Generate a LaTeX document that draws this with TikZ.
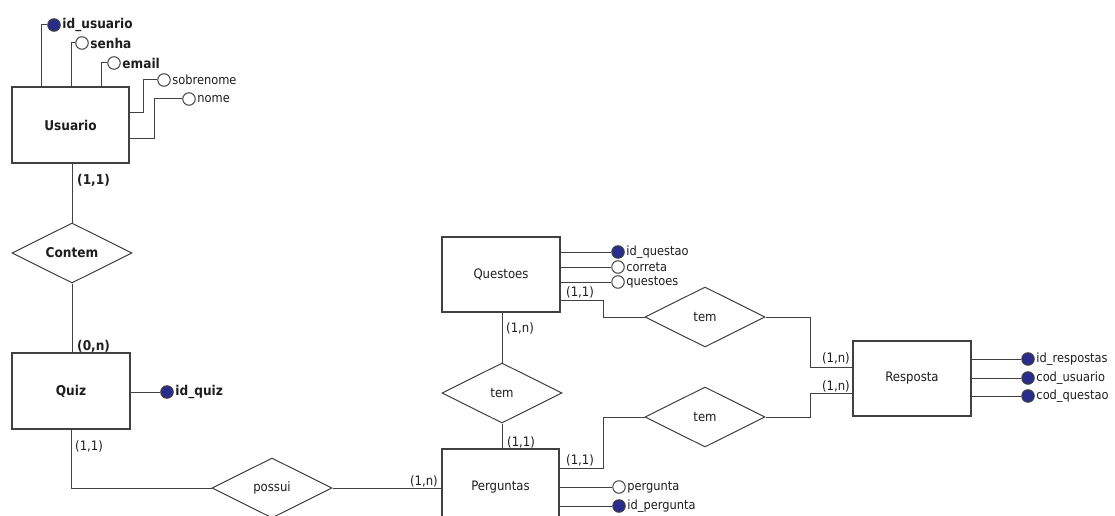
\documentclass[tikz,border=0pt]{standalone}
\usepackage{fontspec}
\setmainfont{DejaVu Sans Condensed}
\usetikzlibrary{shapes.geometric,shadows}
\definecolor{lnc}{RGB}{64,64,64}
\definecolor{keyblue}{RGB}{42,44,140}
\definecolor{txc}{RGB}{30,30,30}
\begin{document}
\begin{tikzpicture}[x=1pt,y=-1pt,
  every node/.style={text=txc},
  conn/.style={draw=lnc,line width=1pt},
  entity/.style={draw=lnc,line width=1.1pt,fill=white,rectangle,inner sep=0pt,
    font=\fontsize{13}{15}\selectfont,
    drop shadow={shadow xshift=1.4pt,shadow yshift=-1.4pt,fill=gray!70,opacity=1}},
  entb/.style={entity,font=\fontsize{13.5}{15}\selectfont\bfseries},
  rel/.style={draw=lnc,line width=1pt,fill=white,diamond,aspect=2,inner sep=0pt,
    minimum width=120pt,minimum height=60pt,font=\fontsize{13}{15}\selectfont},
  relb/.style={rel,font=\fontsize{13.5}{15}\selectfont\bfseries},
  attr/.style={draw=lnc,line width=1pt,fill=white,circle,inner sep=0pt,minimum size=12.5pt},
  key/.style={attr,fill=keyblue},
  alab/.style={anchor=west,inner sep=1.5pt,font=\fontsize{12.7}{14}\selectfont},
  alabb/.style={anchor=west,inner sep=1.5pt,font=\fontsize{13.5}{15}\selectfont\bfseries},
  card/.style={inner sep=0pt,font=\fontsize{13}{15}\selectfont},
  cardb/.style={inner sep=0pt,font=\fontsize{13.5}{15}\selectfont\bfseries}]
\useasboundingbox (0,0) rectangle (1115,516);
\clip (0,0) rectangle (1115,516);

% entities
\node[entb,minimum width=117pt,minimum height=76pt] (usuario) at (70.5,125) {Usuario};
\node[entb,minimum width=118pt,minimum height=76pt] (quiz) at (71,391) {Quiz};
\node[entity,minimum width=118pt,minimum height=75pt] (questoes) at (501,274.5) {Questoes};
\node[entity,minimum width=117pt,minimum height=76pt] (perguntas) at (500.5,487) {Perguntas};
\node[entity,minimum width=118pt,minimum height=75pt] (resposta) at (912,378.5) {Resposta};

% relationships
\node[relb] (contem) at (72,253) {Contem};
\node[rel] (possui) at (272,488) {possui};
\node[rel] (temm) at (502,393) {tem};
\node[rel] (tema) at (705,317) {tem};
\node[rel] (temb) at (705,417) {tem};

% Usuario attributes
\node[key] (idu) at (54,25) {};
\node[alabb] (idul) at (idu.east) {id\_usuario};
\node[attr] (senha) at (82,43) {};
\node[alabb] (senhal) at (senha.east) {senha};
\node[attr] (email) at (114,63) {};
\node[alabb] (emaill) at (email.east) {email};
\node[attr] (sobre) at (164,80) {};
\node[alab] (sobrel) at (sobre.east) {sobrenome};
\node[attr] (nome) at (189,99) {};
\node[alab] (nomel) at (nome.east) {nome};
\draw[conn] ([xshift=-29.5pt]usuario.north) |- (idu.west);
\draw[conn] ([xshift=0.5pt]usuario.north) |- (senha.west);
\draw[conn] ([xshift=30.5pt]usuario.north) |- (email.west);
\draw[conn] ([yshift=12pt]usuario.east) -- ++(14,0) |- (sobre.west);
\draw[conn] ([yshift=-13pt]usuario.east) -- ++(25,0) |- (nome.west);

% Quiz attribute
\node[key] (idq) at (167,392) {};
\node[alabb] (idql) at (idq.east) {id\_quiz};
\draw[conn] (quiz.east |- idq.west) -- (idq.west);

% Questoes attributes
\node[key] (idqs) at (618,252) {};
\node[alab] (idqsl) at (idqs.east) {id\_questao};
\node[attr] (corr) at (618,267) {};
\node[alab] (corrl) at (corr.east) {correta};
\node[attr] (qst) at (618,282) {};
\node[alab] (qstl) at (qst.east) {questoes};
\draw[conn] (questoes.east |- idqs.west) -- (idqs.west);
\draw[conn] (questoes.east |- corr.west) -- (corr.west);
\draw[conn] (questoes.east |- qst.west) -- (qst.west);

% Perguntas attributes
\node[attr] (perg) at (619,487) {};
\node[alab] (pergl) at (perg.east) {pergunta};
\node[key] (idp) at (619,506) {};
\node[alab] (idpl) at (idp.east) {id\_pergunta};
\draw[conn] (perguntas.east |- perg.west) -- (perg.west);
\draw[conn] (perguntas.east |- idp.west) -- (idp.west);

% Resposta attributes
\node[key] (idr) at (1028,359) {};
\node[alab] (idrl) at (idr.east) {id\_respostas};
\node[key] (cu) at (1028,378) {};
\node[alab] (cul) at (cu.east) {cod\_usuario};
\node[key] (cq) at (1028,396) {};
\node[alab] (cql) at (cq.east) {cod\_questao};
\draw[conn] (resposta.east |- idr.west) -- (idr.west);
\draw[conn] (resposta.east |- cu.west) -- (cu.west);
\draw[conn] (resposta.east |- cq.west) -- (cq.west);

% relationship connectors
\draw[conn] (contem.north |- usuario.south) -- (contem.north);
\draw[conn] (contem.south) -- (contem.south |- quiz.north);
\draw[conn] (quiz.south) |- (possui.west);
\draw[conn] (possui.east) -- (perguntas.west |- possui.east);
\draw[conn] (temm.north |- questoes.south) -- (temm.north);
\draw[conn] (temm.south) -- (temm.south |- perguntas.north);
\draw[conn] ([yshift=-25.5pt]questoes.east) -- ++(43,0) |- (tema.west);
\draw[conn] ([yshift=19pt]perguntas.east) -- ++(44,0) |- (temb.west);
\draw[conn] (tema.east) -- ++(45,0) |- ([yshift=11.5pt]resposta.west);
\draw[conn] (temb.east) -- ++(45,0) |- ([yshift=-14.5pt]resposta.west);

% cardinalities
\node[cardb,anchor=west] (c1) at (77,180) {(1,1)};
\node[cardb,anchor=west] (c2) at (77,346) {(0,n)};
\node[card,anchor=west] (c3) at (75,446) {(1,1)};
\node[card,anchor=east] (c4) at (438,481) {(1,n)};
\node[card,anchor=west] (c5) at (506,328) {(1,n)};
\node[card,anchor=west] (c6) at (566,292) {(1,1)};
\node[card,anchor=west] (c7) at (507,442) {(1,1)};
\node[card,anchor=west] (c8) at (566,460) {(1,1)};
\node[card,anchor=east] (c9) at (850,358) {(1,n)};
\node[card,anchor=east] (c10) at (850,386) {(1,n)};
\end{tikzpicture}
\end{document}
